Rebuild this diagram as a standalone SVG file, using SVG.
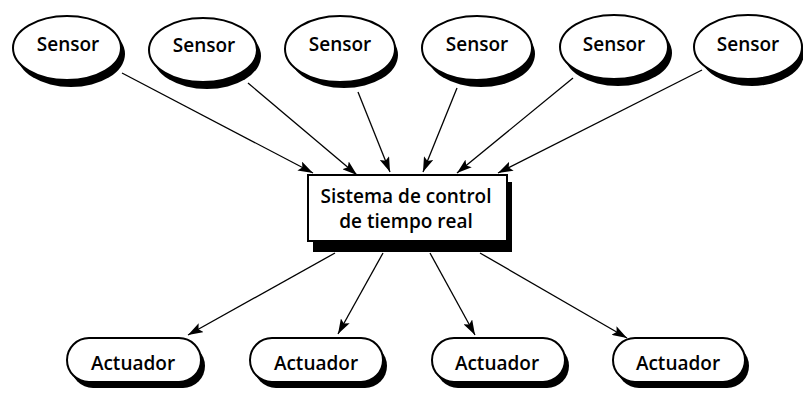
<svg xmlns="http://www.w3.org/2000/svg" width="803" height="401" viewBox="0 0 803 401">
<defs>
<style>
.sh{fill:#000;stroke:none}
.nd{fill:#fff;stroke:#000;stroke-width:2}
.t{font-family:"Open Sans","Liberation Sans",sans-serif;font-size:19px;font-weight:600;fill:#000;text-anchor:middle}
.c{stroke:#000;stroke-width:1.3;fill:none;marker-end:url(#ah)}
</style>
<marker id="ah" markerUnits="userSpaceOnUse" markerWidth="16" markerHeight="10" refX="15" refY="5" orient="auto">
<path d="M0,0 L15,5 L0,10 L3,5 Z" fill="#000"/>
</marker>
</defs>
<rect width="803" height="401" fill="#fff"/>
<g id="connectors">
<line class="c" x1="122" y1="73" x2="313" y2="173"/>
<line class="c" x1="248" y1="83" x2="357" y2="175"/>
<line class="c" x1="358" y1="92" x2="390" y2="172"/>
<line class="c" x1="457" y1="88" x2="423" y2="172"/>
<line class="c" x1="573" y1="78" x2="457" y2="173"/>
<line class="c" x1="702" y1="70" x2="498" y2="173"/>
<line class="c" x1="335" y1="253" x2="188" y2="335"/>
<line class="c" x1="383" y1="253" x2="338" y2="334"/>
<line class="c" x1="430" y1="253" x2="475" y2="335"/>
<line class="c" x1="480" y1="253" x2="627" y2="338"/>
</g>
<g id="sensor1"><ellipse class="sh" cx="71" cy="54" rx="54" ry="33"/><ellipse class="nd" cx="67" cy="48" rx="54" ry="32"/><text class="t" x="68" y="51">Sensor</text></g>
<g id="sensor2"><ellipse class="sh" cx="207" cy="56" rx="54" ry="33"/><ellipse class="nd" cx="203" cy="50" rx="54" ry="32"/><text class="t" x="204" y="52">Sensor</text></g>
<g id="sensor3"><ellipse class="sh" cx="344" cy="55" rx="54" ry="33"/><ellipse class="nd" cx="340" cy="49" rx="55" ry="33"/><text class="t" x="340" y="51">Sensor</text></g>
<g id="sensor4"><ellipse class="sh" cx="481" cy="54" rx="54" ry="33"/><ellipse class="nd" cx="477" cy="48" rx="55" ry="32"/><text class="t" x="477" y="51">Sensor</text></g>
<g id="sensor5"><ellipse class="sh" cx="618" cy="53" rx="54" ry="33"/><ellipse class="nd" cx="614" cy="47" rx="54" ry="32"/><text class="t" x="614" y="51">Sensor</text></g>
<g id="sensor6"><ellipse class="sh" cx="752" cy="53" rx="52" ry="33"/><ellipse class="nd" cx="748" cy="47" rx="54" ry="32"/><text class="t" x="748" y="51">Sensor</text></g>
<g id="system">
<rect class="sh" x="313" y="182" width="199" height="70"/>
<rect class="nd" x="308" y="175" width="199" height="66"/>
<text class="t" x="406" y="203">Sistema de control</text>
<text class="t" x="406" y="228">de tiempo real</text>
</g>
<g id="actuator1"><rect class="sh" x="71" y="344" width="134" height="44" rx="22"/><rect class="nd" x="67" y="338" width="134" height="44" rx="22"/><text class="t" x="133" y="370">Actuador</text></g>
<g id="actuator2"><rect class="sh" x="254" y="344" width="133" height="44" rx="22"/><rect class="nd" x="250" y="338" width="133" height="44" rx="22"/><text class="t" x="316" y="370">Actuador</text></g>
<g id="actuator3"><rect class="sh" x="436" y="344" width="133" height="44" rx="22"/><rect class="nd" x="432" y="338" width="133" height="44" rx="22"/><text class="t" x="497" y="370">Actuador</text></g>
<g id="actuator4"><rect class="sh" x="617" y="344" width="132" height="44" rx="22"/><rect class="nd" x="613" y="338" width="132" height="44" rx="22"/><text class="t" x="678" y="370">Actuador</text></g>
</svg>
